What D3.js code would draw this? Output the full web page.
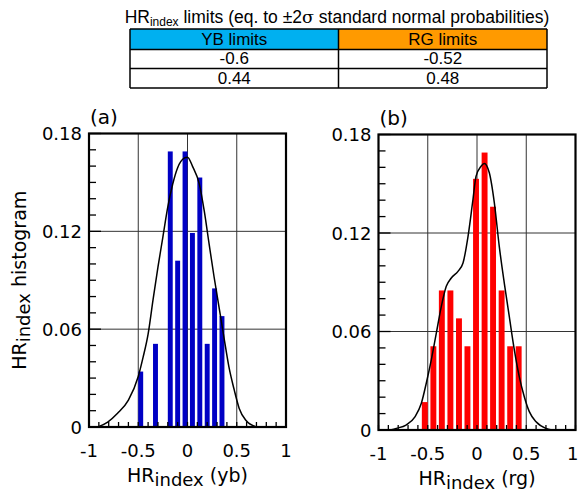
<!DOCTYPE html>
<html>
<head>
<meta charset="utf-8">
<script src="https://cdn.jsdelivr.net/npm/d3@7"></script>
<style>
body { margin: 0; background: #fff; }
svg { display: block; }
</style>
</head>
<body>
<div id="chart"></div>
<script>
// limits table
var tableHead   = ['YB limits', 'RG limits'];
var tableColors = ['#00b0f0', '#ff9a00'];
var tableRows   = [['-0.6', '-0.52'], ['0.44', '0.48']];

var xTicks = [-1, -0.5, 0, 0.5, 1];
var yTicks = [0, 0.06, 0.12, 0.18];
var yTickLabels = ['0', '0.06', '0.12', '0.18'];

// histogram bins (left edge) and frequencies
var ybBins = [-0.5, -0.425, -0.35, -0.275, -0.2, -0.125, -0.05, 0.025, 0.1, 0.175, 0.25, 0.325];
var ybFreq = [0.034, 0, 0.051, 0, 0.169, 0.102, 0.169, 0.119, 0.153, 0.051, 0.085, 0.068];
var rgBins = [-0.56, -0.473, -0.387, -0.3, -0.213, -0.127, -0.04, 0.047, 0.133, 0.22, 0.307, 0.393];
var rgFreq = [0.017, 0.051, 0.085, 0.085, 0.068, 0.051, 0.153, 0.169, 0.136, 0.085, 0.051, 0.051];

// fitted density curves
var ybCurve = [[-0.91,0],[-0.81,0.003],[-0.71,0.0084],[-0.6,0.0165],[-0.5,0.031],[-0.45,0.043],
	[-0.4,0.057],[-0.35,0.078],[-0.3,0.098],[-0.25,0.1165],[-0.2,0.135],[-0.15,0.149],[-0.1,0.159],
	[-0.03,0.165],[0,0.1655],[0.05,0.160],[0.12,0.149],[0.17,0.1325],[0.22,0.112],[0.27,0.092],
	[0.32,0.0735],[0.37,0.055],[0.42,0.037],[0.475,0.0226],[0.525,0.0114],[0.59,0.0043],[0.7,0]];
var rgCurve = [[-0.88,0],[-0.82,0.001],[-0.72,0.003],[-0.63,0.008],[-0.565,0.0163],[-0.515,0.0285],
	[-0.464,0.0427],[-0.413,0.059],[-0.362,0.0753],[-0.312,0.0875],[-0.261,0.0926],[-0.193,0.0966],
	[-0.142,0.1017],[-0.091,0.118],[-0.041,0.1404],[-0.01,0.1545],[0.041,0.1607],[0.074,0.1624],
	[0.125,0.1567],[0.176,0.1384],[0.226,0.1119],[0.277,0.0895],[0.328,0.069],[0.379,0.0488],
	[0.429,0.0325],[0.48,0.0203],[0.531,0.0112],[0.6,0.005],[0.7,0.001],[0.76,0]];

var W = 579, H = 492;
var svg = d3.select('#chart').append('svg').attr('width', W).attr('height', H);

function drawTable() {
	var left = 130, mid = 338.5, right = 547, rowY = [29, 49.5, 68.5, 88];
	var g = svg.append('g').attr('font-family', 'Liberation Sans, Arial, sans-serif');

	var title = g.append('text').attr('x', 337).attr('y', 23).attr('text-anchor', 'middle')
		.attr('font-size', 17.5);
	title.append('tspan').text('HR');
	title.append('tspan').attr('font-size', 12).attr('dy', 3).text('index');
	title.append('tspan').attr('dy', -3).text(' limits (eq. to \u00b12');
	title.append('tspan').attr('font-family', 'DejaVu Serif, serif').text('\u03c3');
	title.append('tspan').text(' standard normal probabilities)');

	var cols = [[left, mid], [mid, right]];
	cols.forEach(function(c, i) {
		g.append('rect').attr('x', c[0]).attr('y', rowY[0]).attr('width', c[1] - c[0])
			.attr('height', rowY[1] - rowY[0]).attr('fill', tableColors[i]);
		g.append('text').attr('x', (c[0] + c[1]) / 2).attr('y', rowY[1] - 4.5)
			.attr('text-anchor', 'middle').attr('font-size', 17).text(tableHead[i]);
		tableRows.forEach(function(r, j) {
			g.append('text').attr('x', (c[0] + c[1]) / 2).attr('y', rowY[j + 2] - 4.5)
				.attr('text-anchor', 'middle').attr('font-size', 17).text(r[i]);
		});
	});
	rowY.forEach(function(y) {
		g.append('line').attr('x1', left).attr('x2', right).attr('y1', y).attr('y2', y)
			.attr('stroke', '#000').attr('stroke-width', 1.5);
	});
	[left, mid, right].forEach(function(x) {
		g.append('line').attr('x1', x).attr('x2', x).attr('y1', rowY[0]).attr('y2', rowY[3])
			.attr('stroke', '#000').attr('stroke-width', 1.5);
	});
}

function drawPanel(p) {
	var x = d3.scaleLinear().domain([-1, 1]).range([p.left, p.right]);
	var y = d3.scaleLinear().domain([0, 0.18]).range([p.bottom, p.top]);
	var g = svg.append('g').attr('font-family', 'DejaVu Sans, Verdana, sans-serif');

	// grid
	g.selectAll('.gx').data([-0.5, 0, 0.5]).enter().append('line')
		.attr('x1', function(d) { return x(d); }).attr('x2', function(d) { return x(d); })
		.attr('y1', p.top).attr('y2', p.bottom).attr('stroke', '#333').attr('stroke-width', 1);
	g.selectAll('.gy').data([0.06, 0.12]).enter().append('line')
		.attr('y1', function(d) { return y(d); }).attr('y2', function(d) { return y(d); })
		.attr('x1', p.left).attr('x2', p.right).attr('stroke', '#333').attr('stroke-width', 1);

	// bars
	g.selectAll('.bar').data(p.bins).enter().append('rect')
		.attr('x', function(d) { return x(d); })
		.attr('width', x(p.barW) - x(0))
		.attr('y', function(d, i) { return y(p.freq[i]); })
		.attr('height', function(d, i) { return y(0) - y(p.freq[i]); })
		.attr('fill', p.color);

	// density curve
	var line = d3.line().curve(d3.curveMonotoneX)
		.x(function(d) { return x(d[0]); })
		.y(function(d) { return y(d[1]); });
	g.append('path').attr('d', line(p.curve)).attr('fill', 'none')
		.attr('stroke', '#000').attr('stroke-width', 1.5);

	// minor ticks, inward
	g.selectAll('.ty').data(y.ticks(18)).enter().append('line')
		.attr('y1', function(d) { return y(d); }).attr('y2', function(d) { return y(d); })
		.attr('x1', p.left).attr('x2', function(d) { return p.left + (yTicks.indexOf(+d.toFixed(2)) >= 0 ? 12 : 7); })
		.attr('stroke', '#000').attr('stroke-width', 1.3);
	g.selectAll('.tx').data(x.ticks(20)).enter().append('line')
		.attr('x1', function(d) { return x(d); }).attr('x2', function(d) { return x(d); })
		.attr('y1', p.bottom).attr('y2', p.bottom - 5)
		.attr('stroke', '#000').attr('stroke-width', 1.3);

	// frame
	g.append('rect').attr('x', p.left).attr('y', p.top).attr('width', p.right - p.left)
		.attr('height', p.bottom - p.top).attr('fill', 'none').attr('stroke', '#000').attr('stroke-width', 2.2);

	// tick labels
	g.selectAll('.lx').data(xTicks).enter().append('text')
		.attr('x', function(d) { return x(d); }).attr('y', p.bottom + 30)
		.attr('text-anchor', 'middle').attr('font-size', 18)
		.text(function(d) { return d; })
		.each(function() {
			// keep the last label inside the window
			var b = this.getBBox();
			if (b.x + b.width > W - 0.5) d3.select(this).attr('dx', W - 0.5 - (b.x + b.width));
		});
	g.selectAll('.ly').data(yTicks).enter().append('text')
		.attr('x', p.left - 7).attr('y', function(d) { return y(d) + 6.5; })
		.attr('text-anchor', 'end').attr('font-size', 18)
		.text(function(d, i) { return yTickLabels[i]; });

	// panel label
	g.append('text').attr('x', p.left + 1).attr('y', p.top - 10).attr('font-size', 20).text(p.label);

	// x title
	var xt = g.append('text').attr('x', (p.left + p.right) / 2).attr('y', p.bottom + 55)
		.attr('text-anchor', 'middle').attr('font-size', 19);
	xt.append('tspan').text('HR');
	xt.append('tspan').attr('font-size', 18).attr('dy', 4).text('index');
	xt.append('tspan').attr('dy', -4).text(' (' + p.xname + ')');

	if (p.ytitle) {
		var cy = (p.top + p.bottom) / 2;
		var yt = g.append('text').attr('transform', 'translate(26,' + cy + ') rotate(-90)')
			.attr('text-anchor', 'middle').attr('font-size', 19);
		yt.append('tspan').text('HR');
		yt.append('tspan').attr('font-size', 18).attr('dy', 4).text('index');
		yt.append('tspan').attr('dy', -4).text(' histogram');
	}
}

drawTable();
drawPanel({left: 89, right: 286, top: 133.5, bottom: 427, bins: ybBins, freq: ybFreq, barW: 0.05,
	color: '#0000c4', curve: ybCurve, label: '(a)', xname: 'yb', ytitle: true});
drawPanel({left: 378.5, right: 575.5, top: 134.5, bottom: 430, bins: rgBins, freq: rgFreq, barW: 0.06,
	color: '#ff0000', curve: rgCurve, label: '(b)', xname: 'rg', ytitle: false});
</script>
</body>
</html>
